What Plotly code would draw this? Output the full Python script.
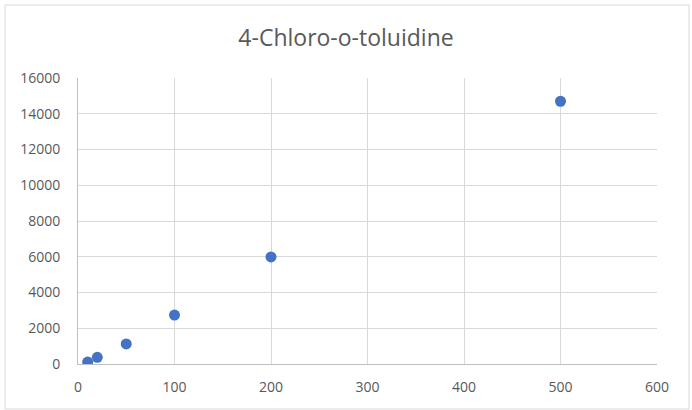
import plotly.graph_objects as go

# Concentration vs. response for 4-Chloro-o-toluidine
concentration = [10, 20, 50, 100, 200, 500]
response = [110, 375, 1120, 2740, 5990, 14700]

x_ticks = [0, 100, 200, 300, 400, 500, 600]
y_ticks = [0, 2000, 4000, 6000, 8000, 10000, 12000, 14000, 16000]

fig = go.Figure()
fig.add_trace(go.Scatter(
    x=concentration,
    y=response,
    mode="markers",
    marker=dict(color="#4472C4", size=11, line=dict(width=0)),
    showlegend=False,
))

font_family = "'Open Sans', sans-serif"

fig.update_layout(
    width=692,
    height=410,
    margin=dict(l=78, r=35, t=78, b=46),
    paper_bgcolor="white",
    plot_bgcolor="white",
    title=dict(
        text="4-Chloro-o-toluidine",
        x=0.5,
        xanchor="center",
        y=1 - 38 / 410,
        yanchor="middle",
        font=dict(family=font_family, size=23, color="#595959"),
    ),
    font=dict(family=font_family, size=14, color="#595959"),
    xaxis=dict(
        range=[0, 600],
        tickvals=x_ticks,
        ticktext=[str(v) for v in x_ticks],
        showgrid=True,
        gridcolor="#d9d9d9",
        gridwidth=1,
        zeroline=False,
        showline=True,
        linecolor="#bfbfbf",
        linewidth=1,
        ticks="",
        ticklabelstandoff=10,
        fixedrange=True,
    ),
    yaxis=dict(
        range=[0, 16000],
        tickvals=y_ticks,
        ticktext=[str(v) for v in y_ticks],
        showgrid=True,
        gridcolor="#d9d9d9",
        gridwidth=1,
        zeroline=False,
        showline=True,
        linecolor="#bfbfbf",
        linewidth=1,
        ticks="",
        ticklabelstandoff=14,
        fixedrange=True,
    ),
    shapes=[
        dict(
            type="rect",
            xref="paper",
            yref="paper",
            x0=-73 / 579,
            x1=1 + 32 / 579,
            y0=-45 / 286,
            y1=1 + 73 / 286,
            line=dict(color="#d9d9d9", width=1),
            fillcolor="rgba(0,0,0,0)",
            layer="below",
        )
    ],
)

fig.write_html("out.html")
